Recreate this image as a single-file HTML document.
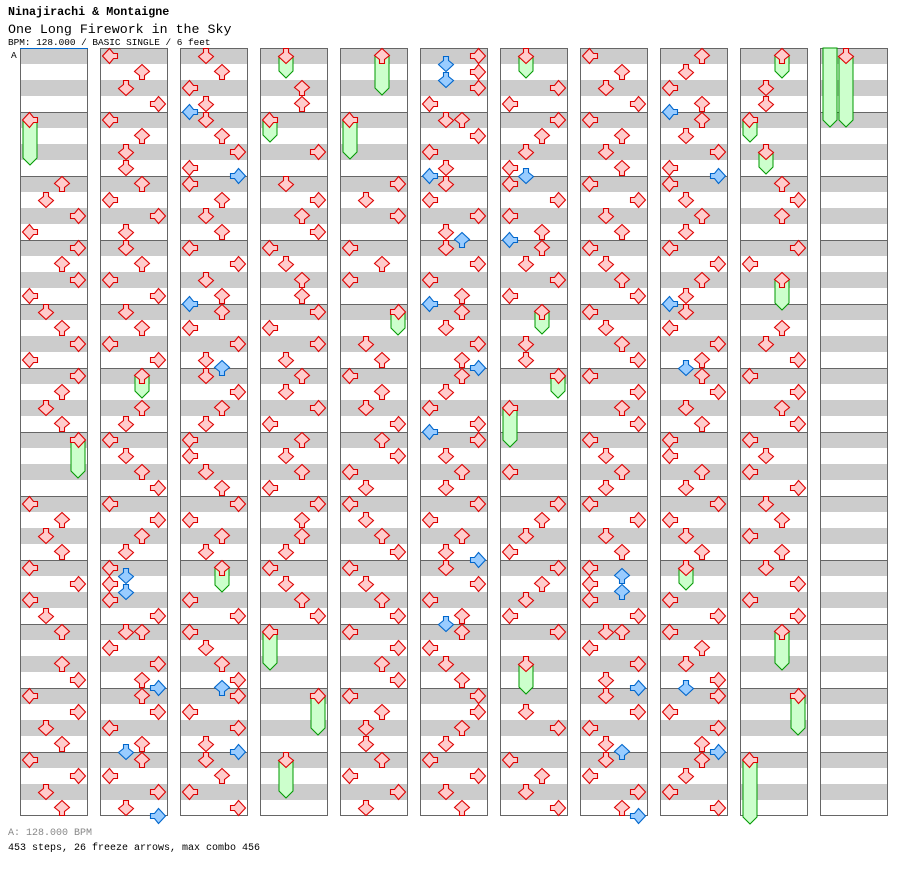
<!DOCTYPE html>
<html><head><meta charset="utf-8"><style>
html,body{margin:0;padding:0;background:#fff;width:912px;height:876px;overflow:hidden}
svg{display:block}
</style></head><body>
<svg id="s" width="912" height="876" xmlns="http://www.w3.org/2000/svg" font-family="Liberation Mono, monospace">
<text x="8" y="15" font-size="11.7" font-weight="bold">Ninajirachi &amp; Montaigne</text>
<text x="8" y="33" font-size="13.3">One Long Firework in the Sky</text>
<text x="8" y="45" font-size="9.4">BPM: 128.000 / BASIC SINGLE / 6 feet</text>
<text x="11" y="58" font-size="9.5">A</text>
<text x="8" y="835" font-size="10" fill="#888">A: 128.000 BPM</text>
<text x="8" y="850" font-size="10">453 steps, 26 freeze arrows, max combo 456</text>
<g id="g"></g>
</svg>
<script>
var cols=[
"112L-165 176U 192D 208R 224L 240R 256U 272R 288L 304D 320U 336R 352L 368R 384U 400D 416U 432R-478 496L 512U 528D 544U 560L 576R 592L 608D 624U 656U 672R 688L 704R 720D 736U 752L 768R 784D 800U",
"48L 64U 80D 96R 112L 128U 144D 160D 176U 192L 208R 224D 240D 256U 272L 288R 304D 320U 336L 352R 368U-398 400U 416D 432L 448D 464U 480R 496L 512R 528U 544D 560L 568d 576L 584d 592L 608R 624D 624U 640L 656R 672U 680r 688U 704R 720L 736U 744d 752U 768L 784R 800D 808r",
"48D 64U 80L 96D 104l 112D 128U 144R 160L 168r 176L 192U 208D 224U 240L 256R 272D 288U 296l 304U 320L 336R 352D 360u 368D 384R 400U 416D 432L 448L 464D 480U 496R 512L 528U 544D 560U-592 592L 608R 624L 640D 656U 672R 680u 688R 704L 720R 736D 744r 752D 768U 784L 800R",
"48D-78 80U 96U 112L-142 144R 176D 192R 208U 224R 240L 256D 272U 288U 304R 320L 336R 352D 368U 384D 400R 416L 432U 448D 464U 480L 496R 512U 528U 544D 560L 576D 592U 608R 624L-670 688R-735 752D-798",
"48U-95 112L-159 176R 192D 208R 240L 256U 272L 304R-335 336D 352U 368L 384U 400D 416R 432U 448R 464L 480D 496L 512D 528U 544R 560L 576D 592U 608R 624L 640R 656U 672R 688L 704U 720D 736D 752U 768L 784R 800D",
"48R 56d 64R 72d 80R 96L 112D 112U 128R 144L 160D 168l 176D 192L 208R 224D 232u 240D 256R 272L 288U 296l 304U 320D 336R 352U 360r 368U 384D 400L 416R 424l 432R 448D 464U 480D 496R 512L 528U 544D 552r 560D 576R 592L 608U 616d 624U 640L 656D 672U 688R 704R 720U 736D 752L 768R 784D 800U",
"48D-78 80R 96L 112R 128U 144D 160L 168d 176L 192R 208L 224U 232l 240U 256D 272R 288L 304U-334 336D 352D 368R-398 400L-447 464L 496R 512U 528D 544L 560R 576U 592D 608L 624R 656D-694 704D 720R 752L 768U 784D 800R",
"48L 64U 80D 96R 112L 128U 144D 160U 176L 192R 208D 224U 240L 256D 272U 288R 304L 320D 336U 352R 368L 384R 400U 416R 432L 448D 464U 480D 496L 512R 528D 544U 560L 568u 576L 584u 592L 608R 624D 624U 640L 656R 672D 680r 688D 704R 720L 736D 744u 752D 768L 784R 800U 808r",
"48U 64D 80L 96U 104l 112U 128D 144R 160L 168r 176L 192D 208U 224D 240L 256R 272U 288D 296l 304D 320L 336R 352U 360d 368U 384R 400D 416U 432L 448L 464U 480D 496R 512L 528D 544U 560D-590 592L 608R 624L 640U 656D 672R 680d 688R 704L 720R 736U 744r 752U 768D 784L 800R",
"48U-78 80D 96D 112L-142 144D-174 176U 192R 208U 240R 256L 272U-310 320U 336D 352R 368L 384R 400U 416R 432L 448D 464L 480R 496D 512U 528L 544U 560D 576R 592L 608R 624U-670 688R-735 752L-824",
"48L~127 48D-127"
];
var lanes={L:0,D:1,U:2,R:3},rot={L:90,D:0,U:180,R:270};
var P="M5.5,0.5H10.5V4.5L15.5,8.5L8,15.5L0.5,8.5L5.5,4.5Z";
var h="";
for(var c=0;c<11;c++){
 var x=20+80*c;
 h+='<rect x="'+x+'" y="48" width="68" height="768" fill="#fff"/>';
 for(var m=0;m<12;m++){var y=48+64*m;
  h+='<rect x="'+x+'" y="'+y+'" width="68" height="16" fill="#ccc"/><rect x="'+x+'" y="'+(y+32)+'" width="68" height="16" fill="#ccc"/>';
  if(m>0)h+='<line x1="'+x+'" x2="'+(x+68)+'" y1="'+(y+0.5)+'" y2="'+(y+0.5)+'" stroke="#666"/>';
 }
 h+='<rect x="'+(x+0.5)+'" y="48.5" width="67" height="767" fill="none" stroke="#666"/>';
}
h+='<line x1="20" x2="88" y1="48.5" y2="48.5" stroke="#0066cc"/>';
var fr="",ar="";
for(var c=0;c<11;c++){
 var x=20+80*c, items=cols[c].split(" ");
 items.forEach(function(it){
  var m=it.match(/^(\d+)([LDURldur])(?:([-~])(\d+))?$/);if(!m)return;
  var y=+m[1],k=m[2],blue=(k!==k.toUpperCase()),K=k.toUpperCase();
  var lx=x+2+16*lanes[K];
  if(m[3]){var e=+m[4],t=(m[3]=='~')?y:y+8;
   fr+='<polygon points="'+(lx+1)+','+t+' '+(lx+15)+','+t+' '+(lx+15)+','+(e-7)+' '+(lx+8)+','+e+' '+(lx+1)+','+(e-7)+'" fill="#ccffcc" stroke="#009900" stroke-width="1"/>';
   if(m[3]=='~')return;
  }
  var fill=blue?'#99ccff':'#ffcccc',st=blue?'#0066cc':'#dd0000';
  ar+='<path d="'+P+'" transform="translate('+lx+','+y+') rotate('+rot[K]+' 8 8)" fill="'+fill+'" stroke="'+st+'" stroke-width="1.1"/>';
 });
}
document.getElementById("g").innerHTML=h+fr+ar;
</script>
</body></html>
